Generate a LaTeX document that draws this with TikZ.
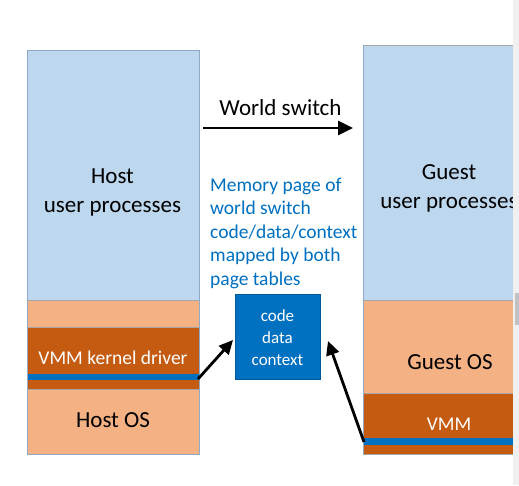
\documentclass[tikz,border=0pt]{standalone}
\usepackage{fontspec}
\setmainfont{Carlito}
\usetikzlibrary{arrows.meta}
\definecolor{lblue}{HTML}{BDD7EE}
\definecolor{lorange}{HTML}{F4B183}
\definecolor{dorange}{HTML}{C55A11}
\definecolor{mblue}{HTML}{0070C0}
\definecolor{edgeblue}{HTML}{8FA9C9}
\definecolor{edgegray}{HTML}{A6A6A6}
\definecolor{scrollbg}{HTML}{F0F0F0}
\definecolor{scrollthumb}{HTML}{C2C2C2}
\begin{document}
\begin{tikzpicture}[x=1pt,y=-1pt,
  layer/.style={draw=edgegray, line width=0.7pt},
  bigtext/.style={font=\fontsize{23}{29}\selectfont, text=black, anchor=base, inner sep=0pt},
  midtext/.style={font=\fontsize{19.5}{24}\selectfont, anchor=base, inner sep=0pt},
  boxtext/.style={font=\fontsize{17}{22}\selectfont, text=white, anchor=base, inner sep=0pt},
  arr/.style={line width=2.8pt, -{Triangle[length=15pt,width=14pt]}},
]
\useasboundingbox (0,0) rectangle (519,485);
\fill[white] (0,0) rectangle (519,485);

% ---------- left column (host) ----------
\path[layer, fill=lblue]   (27,50)  rectangle (199,300);
\path[layer, fill=lorange] (27,300) rectangle (199,327);
\path[layer, fill=dorange] (27,327) rectangle (199,389);
\fill[mblue] (27,374) rectangle (199,380);
\path[layer, fill=lorange] (27,389) rectangle (199,454);
\draw[edgeblue, line width=0.8pt] (27,50) rectangle (199,454);

% ---------- right column (guest) ----------
\path[layer, fill=lblue]   (363,45)  rectangle (530,300);
\path[layer, fill=lorange] (363,300) rectangle (530,393);
\path[layer, fill=dorange] (363,393) rectangle (530,454);
\fill[mblue] (363,438) rectangle (530,445);
\draw[edgeblue, line width=0.8pt] (363,45) -- (363,454);

% ---------- texts in columns ----------
\node[bigtext] (host1) at (112.5,183) {Host};
\node[bigtext] (host2) at (112.5,212) {user processes};
\node[midtext, text=white] (vmmdrv) at (113,364) {VMM kernel driver};
\node[bigtext] (hostos) at (113,427.5) {Host OS};

\node[bigtext] (guest1) at (449,179) {Guest};
\node[bigtext] (guest2) at (449,208) {user processes};
\node[bigtext] (guestos) at (450,369) {Guest OS};
\node[midtext, text=white] (vmm) at (449,430.5) {VMM};

% ---------- world switch ----------
\node[bigtext] (ws) at (280.5,115) {World switch};
\coordinate (wsA) at (203,128);
\coordinate (wsB) at (353,128);
\draw[arr] (wsA) -- (wsB);

% ---------- memory page description ----------
\node[midtext, text=mblue, anchor=base west] (m1) at (210,191) {Memory page of};
\node[midtext, text=mblue, anchor=base west] (m2) at (210,214.5) {world switch};
\node[midtext, text=mblue, anchor=base west] (m3) at (210,238) {code/data/context};
\node[midtext, text=mblue, anchor=base west] (m4) at (210,261.5) {mapped by both};
\node[midtext, text=mblue, anchor=base west] (m5) at (210,285) {page tables};

% ---------- shared page box ----------
\node[draw=mblue!80!black, line width=0.6pt, fill=mblue, minimum width=85pt, minimum height=85pt, inner sep=0pt] (page) at (277.5,336.5) {};
\node[boxtext] (c1) at (277.5,321.5) {code};
\node[boxtext] (c2) at (277.5,343) {data};
\node[boxtext] (c3) at (277.5,365) {context};

% ---------- mapping arrows ----------
\coordinate (hostStripe) at (198,379);
\coordinate (guestStripe) at (364,442);
\coordinate (pageL) at (233,340);
\coordinate (pageR) at (328,341);
\draw[line width=2.8pt, -{Triangle[length=14pt,width=13pt]}] (hostStripe) -- (pageL);
\draw[line width=2.8pt, -{Triangle[length=14pt,width=13pt]}] (guestStripe) -- (pageR);

% ---------- window scrollbar edge ----------
\fill[scrollbg] (513,0) rectangle (519,485);
\fill[scrollthumb] (515,293) rectangle (519,325);
\end{tikzpicture}
\end{document}
